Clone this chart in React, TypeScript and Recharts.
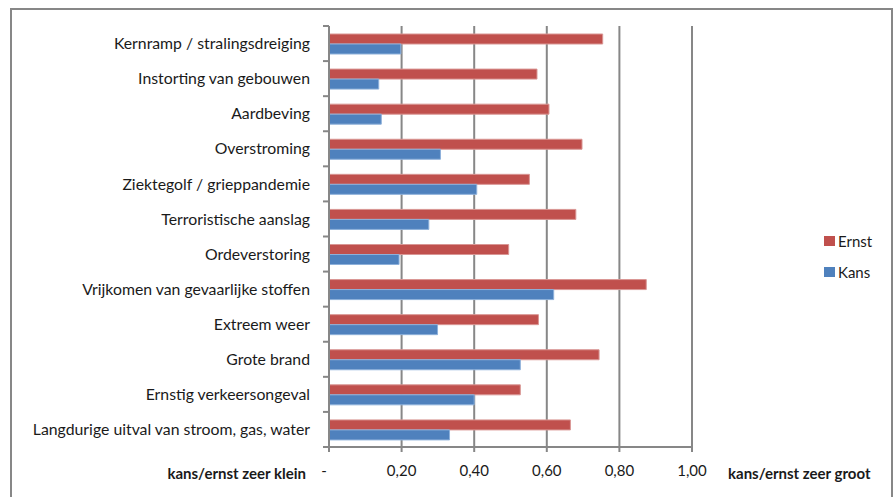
import { BarChart, Bar, XAxis, YAxis, CartesianGrid, Legend } from 'recharts';

const categories = [
  'Kernramp / stralingsdreiging',
  'Instorting van gebouwen',
  'Aardbeving',
  'Overstroming',
  'Ziektegolf / grieppandemie',
  'Terroristische aanslag',
  'Ordeverstoring',
  'Vrijkomen van gevaarlijke stoffen',
  'Extreem weer',
  'Grote brand',
  'Ernstig verkeersongeval',
  'Langdurige uitval van stroom, gas, water',
];
const ernst = [0.754, 0.573, 0.606, 0.697, 0.552, 0.68, 0.495, 0.874, 0.577, 0.744, 0.527, 0.665];
const kans = [0.198, 0.137, 0.144, 0.307, 0.407, 0.275, 0.193, 0.619, 0.299, 0.527, 0.4, 0.332];
const xTicks = [0, 0.2, 0.4, 0.6, 0.8, 1.0];

const FONT = 'Lato, "Open Sans", sans-serif';
const AXIS = '#878787';
const RED = '#C0504D';
const BLUE = '#4F81BD';

const W = 893;
const H = 497;
const TOP = 26;
const BOTTOM = 50;
const BAND = (H - TOP - BOTTOM) / categories.length;

const data = categories.map((name, i) => ({ name, Ernst: ernst[i], Kans: kans[i] }));

const fmt = (v: number) => (v === 0 ? '-' : v.toFixed(2).replace('.', ','));

// category labels plus Excel-style tick marks on the band boundaries
function CategoryTick(props: any) {
  const { x, y, payload, index } = props;
  const ax = x + 13;
  return (
    <g>
      <line x1={ax} x2={ax + 6} y1={y - BAND / 2} y2={y - BAND / 2} stroke={AXIS} strokeWidth={2} />
      {index === categories.length - 1 && (
        <line x1={ax} x2={ax + 6} y1={y + BAND / 2} y2={y + BAND / 2} stroke={AXIS} strokeWidth={2} />
      )}
      <text x={x} y={y} dy="0.36em" textAnchor="end" fill="#1a1a1a" fontSize={15.8} fontFamily={FONT}>
        {payload.value}
      </text>
    </g>
  );
}

function ValueTick(props: any) {
  const { x, y, payload } = props;
  return (
    <text x={payload.value === 0 ? x - 5 : x} y={y} dy="0.71em" textAnchor="middle" fill="#1a1a1a" fontSize={15} fontFamily={FONT}>
      {fmt(payload.value)}
    </text>
  );
}

function LegendBox({ payload }: any) {
  return (
    <div style={{ fontFamily: FONT, fontSize: 15, color: '#1a1a1a' }}>
      {(payload || []).map((p: any) => (
        <div key={p.value} style={{ display: 'flex', alignItems: 'center', height: 31 }}>
          <span style={{ width: 11, height: 10, background: p.color, marginRight: 3, display: 'inline-block' }} />
          {p.value}
        </div>
      ))}
    </div>
  );
}

const sideLabel = {
  position: 'absolute' as const,
  top: 464,
  fontFamily: FONT,
  fontSize: 15,
  fontWeight: 'bold' as const,
  color: '#1a1a1a',
  whiteSpace: 'nowrap' as const,
};

export default function App() {
  return (
    <div style={{ position: 'absolute', left: 0, top: 0, width: W, height: H, background: '#fff', overflow: 'hidden' }}>
      <div
        style={{
          position: 'absolute',
          left: 10,
          top: 8,
          width: 879,
          height: 520,
          borderLeft: `2px solid ${AXIS}`,
          borderTop: `2px solid ${AXIS}`,
          borderRight: `2px solid ${AXIS}`,
        }}
      />
      <BarChart
        width={W}
        height={H}
        data={data}
        layout="vertical"
        margin={{ top: TOP, right: 201, bottom: 0, left: 0 }}
        barGap={0}
        barSize={10}
      >
        <CartesianGrid horizontal={false} stroke={AXIS} strokeWidth={2} verticalValues={xTicks.slice(1)} />
        <XAxis
          type="number"
          domain={[0, 1]}
          ticks={xTicks}
          height={BOTTOM}
          axisLine={{ stroke: AXIS, strokeWidth: 2 }}
          tickLine={{ stroke: AXIS, strokeWidth: 2 }}
          tickSize={5}
          tickMargin={13}
          tick={<ValueTick />}
          interval={0}
        />
        <YAxis
          type="category"
          dataKey="name"
          width={329}
          axisLine={{ stroke: AXIS, strokeWidth: 2 }}
          tickLine={false}
          tickSize={6}
          tickMargin={13}
          tick={<CategoryTick />}
          interval={0}
        />
        <Legend
          layout="vertical"
          align="center"
          verticalAlign="middle"
          content={<LegendBox />}
          wrapperStyle={{ left: 824, top: 225, width: 70 }}
        />
        <Bar dataKey="Ernst" fill={RED} stroke="#D99694" strokeWidth={1} isAnimationActive={false} />
        <Bar dataKey="Kans" fill={BLUE} stroke="#8DB0DA" strokeWidth={1} isAnimationActive={false} />
      </BarChart>
      <div style={{ ...sideLabel, right: W - 306 }}>kans/ernst zeer klein</div>
      <div style={{ ...sideLabel, left: 728 }}>kans/ernst zeer groot</div>
    </div>
  );
}
